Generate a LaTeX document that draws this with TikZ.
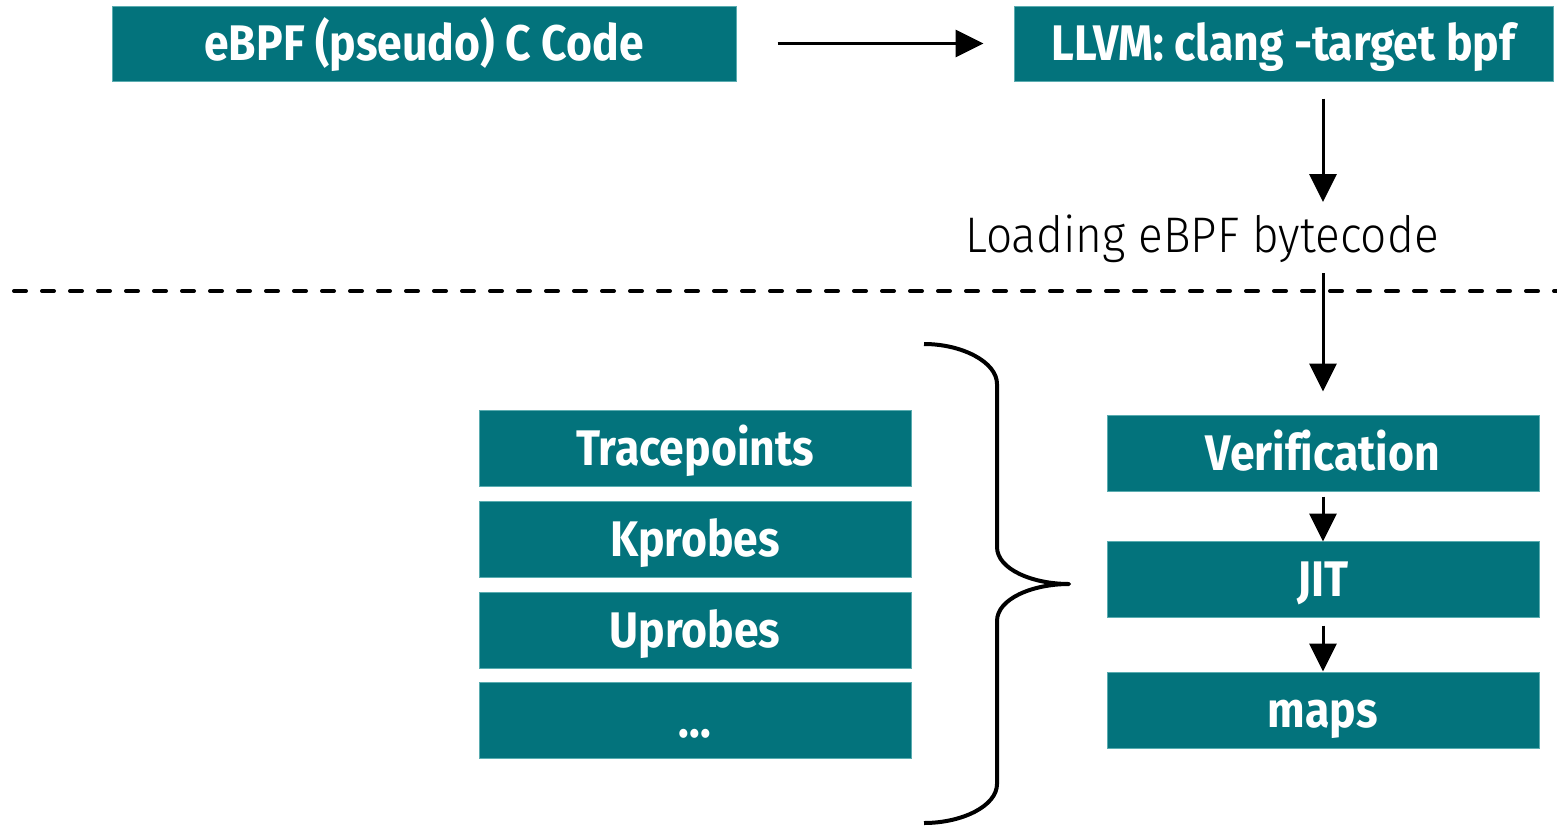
\documentclass[tikz,border=0pt]{standalone}
\usepackage{fontspec}
\usetikzlibrary{arrows.meta}
\newfontfamily\boxfont{Fira Sans}[FakeStretch=0.89, Ligatures=NoCommon]
\newfontfamily\labelfont{Fira Sans Light}[FakeStretch=0.92]
\definecolor{teal}{HTML}{03737C}
\definecolor{tealedge}{HTML}{5AACB0}
\tikzset{
  stage/.style={rectangle, fill=teal, draw=tealedge, line width=1pt,
    minimum height=76pt, inner sep=0pt, text=white,
    text height=34pt, text depth=0pt,
    font=\boxfont\bfseries\fontsize{50}{54}\selectfont},
  wide/.style={stage, minimum width=432pt},
  flow/.style={line width=3pt, -{Triangle[length=28pt,width=27pt]}},
}
\begin{document}
\begin{tikzpicture}[x=1pt,y=-1pt]
\useasboundingbox (0,0) rectangle (1557,825);

% compile chain (user space)
\node[stage, minimum width=624pt, minimum height=75pt] (src) at (424,43.5) {eBPF (pseudo) C Code};
\node[stage, minimum width=539pt, minimum height=75pt] (llvm) at (1283.5,43.5) {LLVM: clang -target bpf};
\node[font=\labelfont\fontsize{50}{54}\selectfont, inner sep=0pt,
      text height=34pt, text depth=0pt] (load) at (1202,235) {Loading eBPF bytecode};

% user/kernel boundary
\draw[line width=4pt, line cap=round, dash pattern=on 12pt off 16pt] (14,291) -- (1557,291);

% kernel side
\node[wide] (verif) at (1323,453) {Verification};
\node[wide] (jit) at (1323,579) {JIT};
\node[wide] (maps) at (1323,710) {maps};

\node[wide] (trace) at (695,448) {Tracepoints};
\node[wide] (kprobe) at (695,539) {Kprobes};
\node[wide] (uprobe) at (695,630) {Uprobes};
\node[wide] (more) at (695,720.5) {...};

% connectors
\coordinate (tipA) at (1323,202);
\coordinate (startB) at (1323,273);
\draw[flow, shorten <=41pt, shorten >=30pt] (src.east) -- (llvm.west);
\draw[flow, shorten <=17pt] (tipA |- llvm.south) -- (tipA);
\draw[flow, shorten >=23pt] (startB) -- (verif.north);
\draw[flow, shorten <=5pt, shorten >=-1pt] (verif.south) -- (jit.north);
\draw[flow, shorten <=8pt] (jit.south) -- (maps.north);

% brace grouping the hook points
\coordinate (btip) at (1069,584);
\draw[line width=4pt, line join=round]
  (924,344) .. controls (962,344) and (997,362) .. (997,384)
  -- (997,547) .. controls (997,569) and (1032,584) .. (btip)
  .. controls (1032,584) and (997,599) .. (997,621)
  -- (997,784) .. controls (997,806) and (962,823) .. (924,823);
\end{tikzpicture}
\end{document}
